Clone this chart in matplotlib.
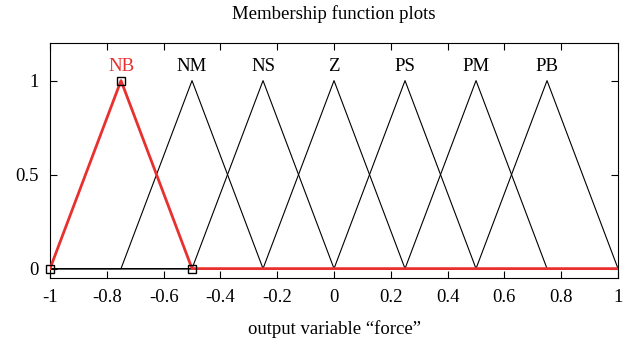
from matplotlib import pyplot as plt
import numpy as np

## Data ---------------------------------------------------------------
mf_names = ["NB", "NM", "NS", "Z", "PS", "PM", "PB"]
mf_left = [-1.0, -0.75, -0.5, -0.25, 0.0, 0.25, 0.5]
mf_peak = [-0.75, -0.5, -0.25, 0.0, 0.25, 0.5, 0.75]
mf_right = [-0.5, -0.25, 0.0, 0.25, 0.5, 0.75, 1.0]
selected = 0  # highlighted MF (NB)

xticks = [-1, -0.8, -0.6, -0.4, -0.2, 0, 0.2, 0.4, 0.6, 0.8, 1]
xticklabels = ["-1", "-0.8", "-0.6", "-0.4", "-0.2", "0", "0.2", "0.4", "0.6", "0.8", "1"]
yticks = [0, 0.5, 1]
yticklabels = ["0", "0.5", "1"]

## Set up plot --------------------------------------------------------
fsize = 13.5
plt.rcParams["font.family"] = ["Liberation Serif", "DejaVu Serif"]
plt.rc("font", size=fsize)

fig = plt.figure(figsize=(6.3, 3.46), dpi=100)
ax = fig.add_axes([0.0794, 0.1965, 0.9016, 0.6792])

red = "#e8312f"

for i, name in enumerate(mf_names):
    xs = [-1.0, mf_left[i], mf_peak[i], mf_right[i], 1.0]
    ys = [0, 0, 1, 0, 0]
    if i == selected:
        continue
    ax.plot(xs, ys, color="black", lw=0.8)
    ax.text(mf_peak[i], 1.075, name, ha="center", va="center", color="black", fontsize=fsize)

# highlighted MF drawn on top
i = selected
xs = [-1.0, mf_left[i], mf_peak[i], mf_right[i], 1.0]
ys = [0, 0, 1, 0, 0]
ax.plot(xs, ys, color=red, lw=2.0, zorder=3)
ax.plot(
    [mf_left[i], mf_peak[i], mf_right[i]],
    [0, 1, 0],
    "s",
    markersize=6,
    markerfacecolor="none",
    markeredgecolor="black",
    markeredgewidth=1.0,
    zorder=4,
    clip_on=False,
)
ax.text(mf_peak[i], 1.075, mf_names[i], ha="center", va="center", color=red, fontsize=fsize)

ax.set_xlim((-1, 1))
ax.set_ylim((-0.05, 1.2))
ax.set_xticks(xticks)
ax.set_xticklabels(xticklabels)
ax.set_yticks(yticks)
ax.set_yticklabels(yticklabels)
ax.tick_params(direction="in", top=True, right=True, length=5, width=0.8, pad=8)
for sp in ax.spines.values():
    sp.set_linewidth(0.8)

ax.set_title("Membership function plots", fontsize=fsize, pad=17)
ax.set_xlabel("output variable \u201cforce\u201d", fontsize=fsize, labelpad=10)

fig.savefig("out.png", dpi=100)
